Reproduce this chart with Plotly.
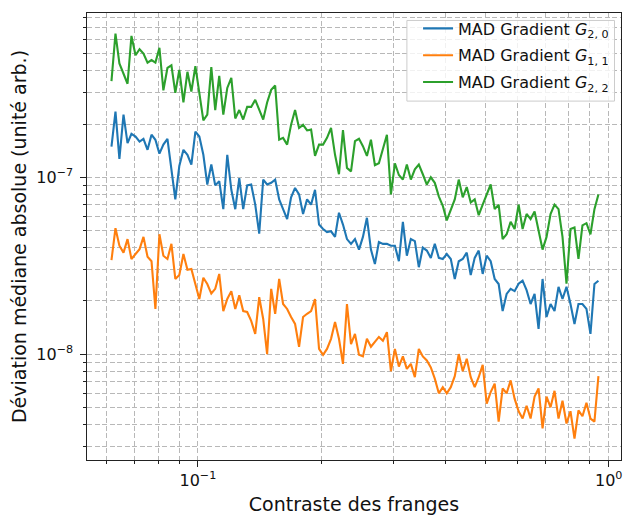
import plotly.graph_objects as go

contrast = [
    0.0616, 0.0630, 0.0644, 0.0659, 0.0674, 0.0689, 0.0705, 0.0721, 0.0737, 0.0754,
    0.0771, 0.0788, 0.0806, 0.0824, 0.0843, 0.0862, 0.0881, 0.0901, 0.0922, 0.0943,
    0.0964, 0.0986, 0.1008, 0.1031, 0.1054, 0.1078, 0.1102, 0.1127, 0.1153, 0.1179,
    0.1206, 0.1233, 0.1261, 0.1289, 0.1318, 0.1348, 0.1379, 0.1410, 0.1442, 0.1474,
    0.1508, 0.1542, 0.1577, 0.1612, 0.1649, 0.1686, 0.1724, 0.1763, 0.1803, 0.1844,
    0.1886, 0.1928, 0.1972, 0.2017, 0.2062, 0.2109, 0.2157, 0.2205, 0.2255, 0.2306,
    0.2359, 0.2412, 0.2467, 0.2522, 0.2579, 0.2638, 0.2697, 0.2758, 0.2821, 0.2885,
    0.2950, 0.3017, 0.3085, 0.3155, 0.3226, 0.3299, 0.3374, 0.3450, 0.3528, 0.3608,
    0.3690, 0.3773, 0.3859, 0.3946, 0.4035, 0.4127, 0.4220, 0.4315, 0.4413, 0.4513,
    0.4615, 0.4719, 0.4826, 0.4935, 0.5047, 0.5161, 0.5278, 0.5397, 0.5519, 0.5644,
    0.5772, 0.5902, 0.6036, 0.6172, 0.6312, 0.6455, 0.6601, 0.6750, 0.6903, 0.7059,
    0.7219, 0.7382, 0.7549, 0.7720, 0.7894, 0.8073, 0.8256, 0.8442, 0.8633, 0.8829,
    0.9029, 0.9233, 0.9442,
]

mad_g20 = [
    1.49e-7, 2.35e-7, 1.27e-7, 2.26e-7, 1.56e-7, 1.76e-7, 1.7e-7, 1.59e-7, 1.65e-7, 1.43e-7,
    1.74e-7, 1.63e-7, 1.36e-7, 1.53e-7, 1.65e-7, 1.11e-7, 7.5e-8, 1.16e-7, 1.43e-7, 1.34e-7,
    1.18e-7, 1.81e-7, 1.7e-7, 1.34e-7, 9.1e-8, 1.18e-7, 9.0e-8, 9.5e-8, 6.6e-8, 1.34e-7,
    8.5e-8, 6.6e-8, 9.9e-8, 6.6e-8, 9.0e-8, 9.1e-8, 7.0e-8, 4.8e-8, 9.7e-8, 9.1e-8,
    9.3e-8, 9.7e-8, 7.5e-8, 6.6e-8, 5.8e-8, 7.7e-8, 8.7e-8, 8.0e-8, 6.2e-8, 7.5e-8,
    7.0e-8, 8.5e-8, 5.4e-8, 5.1e-8, 4.9e-8, 4.95e-8, 4.6e-8, 6.3e-8, 5.4e-8, 4.47e-8,
    4.2e-8, 4.47e-8, 3.9e-8, 4.6e-8, 5.9e-8, 3.9e-8, 3.23e-8, 4.3e-8, 4.2e-8, 4.2e-8,
    4.1e-8, 4.1e-8, 3.35e-8, 5.6e-8, 3.6e-8, 4.47e-8, 4.35e-8, 3.1e-8, 4.0e-8, 3.85e-8,
    3.5e-8, 4.2e-8, 3.5e-8, 3.45e-8, 3.68e-8, 3.45e-8, 2.66e-8, 3.35e-8, 3.45e-8, 3.75e-8,
    2.8e-8, 3.5e-8, 3.85e-8, 2.84e-8, 3.6e-8, 3.35e-8, 2.66e-8, 2.49e-8, 1.75e-8, 2.19e-8,
    2.34e-8, 2.27e-8, 2.5e-8, 2.6e-8, 2.3e-8, 1.92e-8, 2.19e-8, 1.39e-8, 2.66e-8, 1.62e-8,
    1.92e-8, 1.75e-8, 2.4e-8, 2.05e-8, 2.4e-8, 1.92e-8, 1.48e-8, 1.92e-8, 1.92e-8, 1.8e-8,
    1.3e-8, 2.49e-8, 2.6e-8,
]

mad_g11 = [
    3.4e-8, 5.15e-8, 4.1e-8, 3.75e-8, 4.47e-8, 3.45e-8, 3.68e-8, 3.92e-8, 4.6e-8, 3.55e-8,
    3.35e-8, 1.8e-8, 4.76e-8, 3.6e-8, 3.45e-8, 4.2e-8, 2.66e-8, 2.8e-8, 3.68e-8, 3.0e-8,
    3.03e-8, 2.49e-8, 2.05e-8, 2.7e-8, 2.49e-8, 2.2e-8, 2.34e-8, 2.84e-8, 1.75e-8, 2.05e-8,
    2.27e-8, 1.8e-8, 2.15e-8, 1.75e-8, 1.73e-8, 1.54e-8, 1.3e-8, 2.1e-8, 1.58e-8, 1.0e-8,
    2.34e-8, 1.69e-8, 2.66e-8, 1.92e-8, 1.8e-8, 1.62e-8, 1.48e-8, 1.1e-8, 1.62e-8, 1.69e-8,
    1.75e-8, 2.05e-8, 1.07e-8, 9.9e-9, 1.07e-8, 1.22e-8, 1.52e-8, 1.22e-8, 8.8e-9, 1.92e-8,
    1.14e-8, 1.3e-8, 9.9e-9, 9.7e-9, 1.22e-8, 1.1e-8, 1.17e-8, 1.25e-8, 1.19e-8, 1.33e-8,
    8.0e-9, 1.07e-8, 8.5e-9, 9.7e-9, 8.25e-9, 8.8e-9, 7.4e-9, 1.07e-8, 9.7e-9, 9.2e-9,
    8.4e-9, 7.26e-9, 6.0e-9, 6.5e-9, 6.0e-9, 6.5e-9, 7.5e-9, 1.0e-8, 8.0e-9, 9.4e-9,
    7.4e-9, 6.5e-9, 7.4e-9, 8.7e-9, 5.25e-9, 6.1e-9, 6.8e-9, 4.15e-9, 6.4e-9, 6.0e-9,
    7.1e-9, 5.6e-9, 4.75e-9, 4.32e-9, 5.1e-9, 4.32e-9, 5.75e-9, 6.4e-9, 3.8e-9, 5.75e-9,
    5.0e-9, 6.2e-9, 4.32e-9, 5.45e-9, 4.05e-9, 4.75e-9, 3.33e-9, 4.8e-9, 4.45e-9, 5.3e-9,
    4.32e-9, 4.15e-9, 7.5e-9,
]

mad_g22 = [
    3.5e-7, 6.5e-7, 4.4e-7, 3.85e-7, 3.38e-7, 6.3e-7, 4.9e-7, 5.3e-7, 5.0e-7, 4.45e-7,
    4.6e-7, 4.45e-7, 5.4e-7, 3.1e-7, 4.15e-7, 4.3e-7, 3.0e-7, 4.05e-7, 2.65e-7, 3.95e-7,
    3.05e-7, 4.25e-7, 3.05e-7, 2.1e-7, 2.26e-7, 4.2e-7, 2.4e-7, 3.75e-7, 2.26e-7, 3.2e-7,
    3.65e-7, 2.15e-7, 2.4e-7, 2.12e-7, 2.5e-7, 2.5e-7, 2.74e-7, 2.4e-7, 2.12e-7, 2.65e-7,
    3.12e-7, 3.3e-7, 1.63e-7, 1.67e-7, 1.53e-7, 1.98e-7, 2.4e-7, 1.9e-7, 1.98e-7, 1.84e-7,
    1.86e-7, 1.32e-7, 1.53e-7, 1.53e-7, 1.67e-7, 1.9e-7, 1.34e-7, 1.04e-7, 1.85e-7, 1.13e-7,
    1.08e-7, 1.6e-7, 1.65e-7, 1.5e-7, 1.32e-7, 1.63e-7, 1.17e-7, 1.2e-7, 1.43e-7, 1.74e-7,
    8.0e-8, 1.2e-7, 1.03e-7, 9.7e-8, 1.18e-7, 9.7e-8, 1.11e-7, 1.18e-7, 1.04e-7, 9.1e-8,
    1.0e-7, 9.3e-8, 7.8e-8, 6.9e-8, 5.7e-8, 6.6e-8, 7.5e-8, 9.7e-8, 7.7e-8, 8.8e-8,
    7.2e-8, 7.5e-8, 6.1e-8, 7.0e-8, 8.0e-8, 9.1e-8, 6.6e-8, 7.0e-8, 4.47e-8, 4.76e-8,
    5.6e-8, 5.1e-8, 7.0e-8, 5.1e-8, 6.2e-8, 5.8e-8, 6.4e-8, 4.95e-8, 3.9e-8, 4.6e-8,
    6.2e-8, 7.0e-8, 6.6e-8, 4.6e-8, 2.5e-8, 5.1e-8, 5.2e-8, 3.45e-8, 5.35e-8, 5.5e-8,
    4.76e-8, 6.6e-8, 8.0e-8,
]

series_names = [
    "MAD Gradient <i>G</i><sub>2, 0</sub>",
    "MAD Gradient <i>G</i><sub>1, 1</sub>",
    "MAD Gradient <i>G</i><sub>2, 2</sub>",
]
series_colors = ["#1f77b4", "#ff7f0e", "#2ca02c"]

x_major = [0.1, 1.0]
x_major_text = ["10<sup>−1</sup>", "10<sup>0</sup>"]
x_minor = [0.06, 0.07, 0.08, 0.09, 0.2, 0.3, 0.4, 0.5, 0.6, 0.7, 0.8, 0.9]
y_major = [1e-8, 1e-7]
y_major_text = ["10<sup>−8</sup>", "10<sup>−7</sup>"]
y_minor = [3e-9, 4e-9, 5e-9, 6e-9, 7e-9, 8e-9, 9e-9,
           2e-8, 3e-8, 4e-8, 5e-8, 6e-8, 7e-8, 8e-8, 9e-8,
           2e-7, 3e-7, 4e-7, 5e-7, 6e-7, 7e-7, 8e-7]

FONT = "DejaVu Sans"
GRID = "#b8b8b8"
DASH = "5px,2.5px"

# figure geometry (pixels)
W, H = 624, 515
ML, MR, MT, MB = 87, 2, 13, 53
PW, PH = W - ML - MR, H - MT - MB


def px_to_paper_x(px):
    return (px - ML) / PW


def px_to_paper_y(py):
    return 1 - (py - MT) / PH


fig = go.Figure()
for i, (name, ys, col) in enumerate(zip(series_names, [mad_g20, mad_g11, mad_g22], series_colors)):
    fig.add_trace(go.Scatter(
        x=contrast, y=ys, mode="lines", name=name,
        line=dict(color=col, width=2.1), legendgroup=f"g{i}",
    ))

axis_common = dict(
    type="log",
    showline=True, linecolor="#222222", linewidth=1.3, mirror=True,
    ticks="outside", ticklen=5.5, tickwidth=1.2, tickcolor="#222222",
    showgrid=True, gridcolor=GRID, gridwidth=1, griddash=DASH,
    zeroline=False,
    tickfont=dict(family=FONT, size=16, color="#111111"),
)

fig.update_xaxes(
    **axis_common,
    range=[-1.270, 0.030],
    tickmode="array", tickvals=x_major, ticktext=x_major_text,
    minor=dict(tickvals=x_minor, ticks="outside", ticklen=3.2, tickwidth=1,
               tickcolor="#222222", showgrid=True, gridcolor=GRID,
               gridwidth=1, griddash=DASH),
    title=dict(text="Contraste des franges", font=dict(family=FONT, size=19, color="#111111"),
               standoff=10),
)
fig.update_yaxes(
    **axis_common,
    range=[-8.599, -6.071],
    tickmode="array", tickvals=y_major, ticktext=y_major_text,
    ticklabelstandoff=4,
    minor=dict(tickvals=y_minor, ticks="outside", ticklen=3.2, tickwidth=1,
               tickcolor="#222222", showgrid=True, gridcolor=GRID,
               gridwidth=1, griddash=DASH),
    title=dict(text="Déviation médiane absolue (unité arb.)",
               font=dict(family=FONT, size=19, color="#111111"), standoff=4),
)

# legend frame (matplotlib-style box)
fig.add_shape(
    type="rect", xref="paper", yref="paper", layer="above",
    x0=px_to_paper_x(407.5), x1=px_to_paper_x(615.5),
    y0=px_to_paper_y(101.5), y1=px_to_paper_y(20.5),
    fillcolor="rgba(255,255,255,0.8)", line=dict(color="#cccccc", width=1),
)

fig.update_layout(
    width=W, height=H,
    margin=dict(l=ML, r=MR, t=MT, b=MB),
    paper_bgcolor="white", plot_bgcolor="white",
    font=dict(family=FONT, size=16, color="#111111"),
    legend=dict(
        x=0.987, y=px_to_paper_y(11.5), xanchor="right", yanchor="top",
        bgcolor="rgba(0,0,0,0)", borderwidth=0,
        font=dict(family=FONT, size=16, color="#111111"),
        tracegroupgap=3,
    ),
    showlegend=True,
)

fig.write_html(
    "out.html",
    config={"displayModeBar": False},
    post_script="document.body.style.margin='0';document.body.style.overflow='hidden';",
)
